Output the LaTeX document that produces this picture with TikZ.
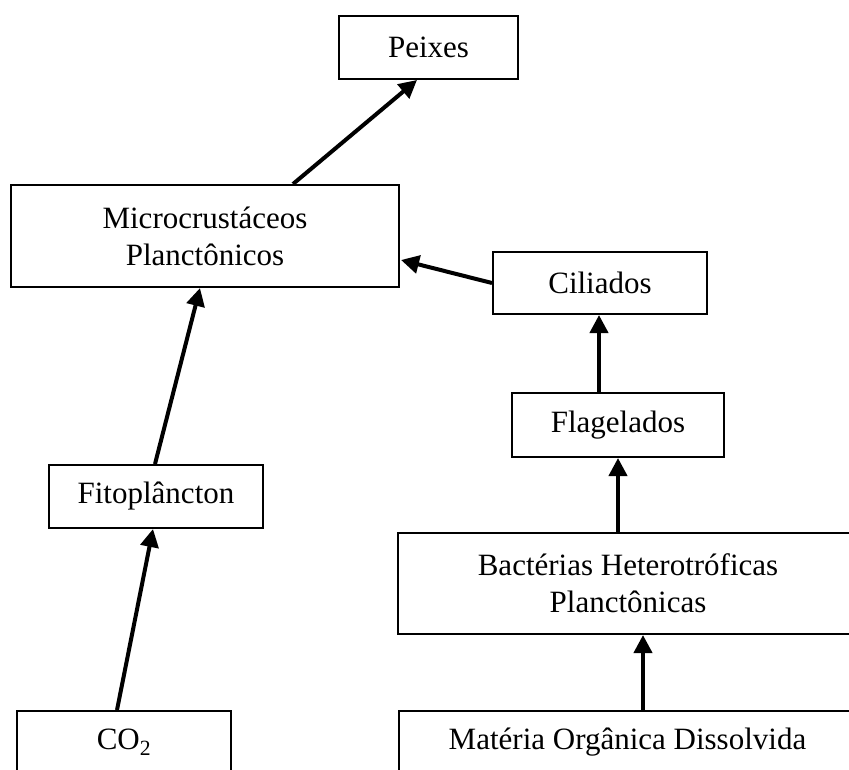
\documentclass[tikz,border=0pt]{standalone}
\usepackage{fontspec}
\setmainfont{Liberation Serif}
\usetikzlibrary{arrows.meta,calc}
\tikzset{
  box/.style={draw, line width=2pt, rectangle, inner sep=0pt, align=center,
    font=\fontsize{31}{37}\selectfont},
  flow/.style={line width=4pt, -{Triangle[length=18pt,width=18pt]}}
}
\begin{document}
\begin{tikzpicture}[x=1pt,y=-1pt]
\useasboundingbox (0,0) rectangle (849,769);
\node[box, minimum width=179pt, minimum height=63pt] (peixes) at (428.5,47.5) {Peixes};
\node[box, minimum width=388pt, minimum height=102pt] (micro) at (205,236) {Microcrustáceos\\Planctônicos};
\node[box, minimum width=214pt, minimum height=62pt] (cil) at (600,283) {Ciliados};
\node[box, minimum width=212pt, minimum height=64pt] (flag) at (618,425) {Flagelados};
\node[box, minimum width=214pt, minimum height=63pt] (fito) at (156,496.5) {Fitoplâncton};
\node[box, minimum width=460pt, minimum height=101pt] (bac) at (628,583.5) {Bactérias Heterotróficas\\Planctônicas};
\node[box, minimum width=214pt, minimum height=62pt] (co2) at (124,742) {CO\textsubscript{2}};
\node[box, minimum width=457pt, minimum height=62pt] (mat) at (627.5,742) {Matéria Orgânica Dissolvida};
\draw[flow] ($(micro.north)+(88,0)$) -- ($(peixes.south)+(-11.5,0)$);
\draw[flow] ($(cil.west)$) -- ($(micro.east)+(1,24)$);
\draw[flow] ($(fito.north)+(-1,0)$) -- ($(micro.south)+(-5,0)$);
\draw[flow] ($(co2.north)+(-7,0)$) -- ($(fito.south)+(-3,0)$);
\draw[flow] ($(flag.north)+(-19,0)$) -- ($(cil.south)+(-1,0)$);
\draw[flow] (bac.north -| flag.south) -- (flag.south);
\draw[flow] ($(mat.north)+(15.5,0)$) -- ($(bac.south)+(15,0)$);
\end{tikzpicture}
\end{document}
